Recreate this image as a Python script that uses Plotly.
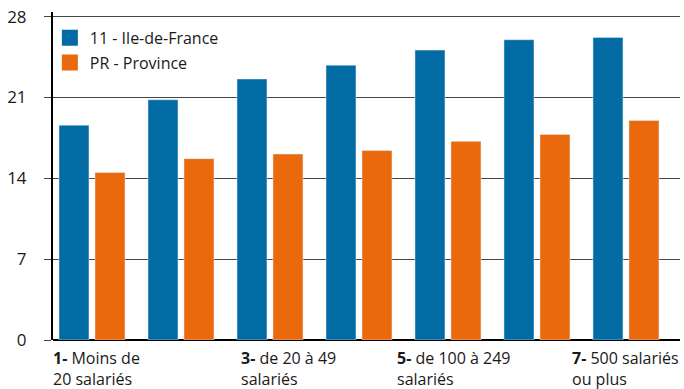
import plotly.graph_objects as go

categories = ["1- Moins de 20 salariés", "2- de 10 à 19 salariés", "3- de 20 à 49 salariés",
              "4- de 50 à 99 salariés", "5- de 100 à 249 salariés", "6- de 250 à 499 salariés",
              "7- 500 salariés ou plus"]
idf_values = [18.6, 20.8, 22.6, 23.8, 25.1, 26.0, 26.2]
prov_values = [14.5, 15.7, 16.1, 16.4, 17.2, 17.8, 19.0]
series_names = ["11 - Ile-de-France", "PR - Province"]
shown_labels = {0: "<b>1-</b> Moins de<br>20 salariés",
                2: "<b>3-</b> de 20 à 49<br>salariés",
                4: "<b>5-</b> de 100 à 249<br>salariés",
                6: "<b>7-</b> 500 salariés<br>ou plus"}
label_shifts = {0: -41, 2: -31, 4: -53, 6: -56}
y_ticks = [0, 7, 14, 21, 28]

BLUE = "#036ba3"
ORANGE = "#ea690c"
FONT = "Open Sans"
TXT = "#1a1a1a"

xs = list(range(len(categories)))
fig = go.Figure()
fig.add_bar(x=xs, y=idf_values, marker_color=BLUE, showlegend=False,
            hovertext=categories, name=series_names[0])
fig.add_bar(x=xs, y=prov_values, marker_color=ORANGE, showlegend=False,
            hovertext=categories, name=series_names[1])
for nm, col, grp in [(series_names[0], BLUE, "a"), (series_names[1], ORANGE, "b")]:
    fig.add_scatter(x=[None], y=[None], mode="markers", name=nm, legendgroup=grp,
                    marker=dict(symbol="square", size=16, color=col))

annotations = []
for i, txt in shown_labels.items():
    annotations.append(dict(x=i, y=0, xref="x", yref="y", text=txt, showarrow=False,
                            xanchor="left", yanchor="top", align="left",
                            xshift=label_shifts[i], yshift=-5,
                            font=dict(family=FONT, size=16, color=TXT)))

fig.update_layout(
    width=684, height=389,
    margin=dict(l=53, r=4, t=12, b=49),
    paper_bgcolor="white", plot_bgcolor="white",
    barmode="group", bargap=0.191, bargroupgap=0.167,
    font=dict(family=FONT, color=TXT),
    legend=dict(x=-0.005, y=0.973, xanchor="left", yanchor="top",
                font=dict(family=FONT, size=16, color=TXT),
                tracegroupgap=1, traceorder="grouped",
                bgcolor="rgba(0,0,0,0)"),
    annotations=annotations,
)
fig.update_xaxes(range=[-0.438, 6.607], showticklabels=False, ticks="",
                 showgrid=False, zeroline=False, showline=False)
fig.update_yaxes(range=[0, 28.4], tickvals=y_ticks, ticktext=[str(v) for v in y_ticks],
                 showgrid=True, gridcolor="#444", gridwidth=1.3,
                 ticks="outside", ticklen=7, tickcolor="#444", tickwidth=1.3,
                 ticklabelstandoff=14,
                 tickfont=dict(family=FONT, size=17, color=TXT),
                 showline=True, linecolor="black", linewidth=2,
                 zeroline=True, zerolinecolor="black", zerolinewidth=2)

fig.write_html("out.html")
